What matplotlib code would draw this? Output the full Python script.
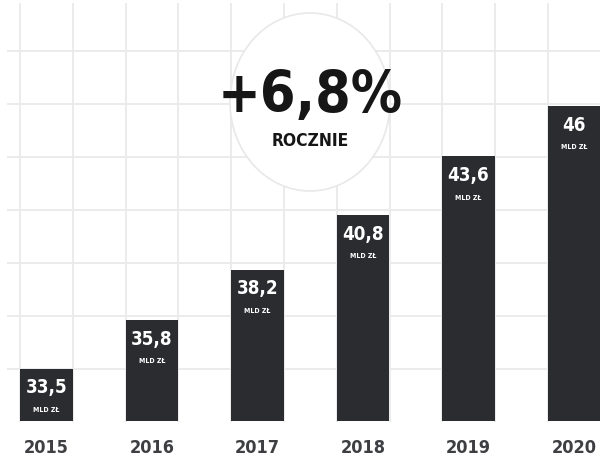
import numpy as np
import matplotlib
matplotlib.use('Agg')
import matplotlib.pyplot as plt
from matplotlib.patches import Ellipse

years = ['2015', '2016', '2017', '2018', '2019', '2020']
values = [33.5, 35.8, 38.2, 40.8, 43.6, 46]
value_labels = ['33,5', '35,8', '38,2', '40,8', '43,6', '46']
unit_label = 'MLD ZŁ'
growth_label = '+6,8%'
growth_sub = 'ROCZNIE'

W, H = 600, 464
BASE = 31.0
FONT = ['DejaVu Sans']
STRETCH = 'condensed'
BAR_COLOR = '#2b2c30'
GRID_COLOR = '#ebebeb'

fig = plt.figure(figsize=(W / 100, H / 100), dpi=100)
fig.patch.set_facecolor('white')

# background grid, drawn in pixel units
bg = fig.add_axes([0, 0, 1, 1], zorder=0)
bg.set_xlim(0, W)
bg.set_ylim(H, 0)
bg.axis('off')
for gx in 20 + 52.8 * np.arange(12):
    bg.plot([gx, gx], [5, 422], color=GRID_COLOR, lw=1.4, zorder=1)
for gy in np.linspace(52, 370, 7):
    bg.plot([8, W], [gy, gy], color=GRID_COLOR, lw=1.4, zorder=1)

# badge with the yearly growth
bg.add_patch(Ellipse((310, 103), 160, 178, facecolor='white',
                     edgecolor='#e8e8e8', lw=1.2, zorder=2))
bg.text(310, 97, growth_label, ha='center', va='center', fontsize=41,
        fontweight='bold', family=FONT, stretch=STRETCH, color='#161616', zorder=3)
bg.text(310, 141, growth_sub, ha='center', va='center', fontsize=12.5,
        fontweight='bold', family=FONT, stretch=STRETCH, color='#161616', zorder=3)

# bars
ax = fig.add_axes([0, (H - 422) / H, 1, 422 / H], zorder=1)
ax.patch.set_alpha(0)
x = np.arange(len(years))
heights = np.array(values) - BASE
ax.bar(x, heights, bottom=BASE, width=0.5, color=BAR_COLOR)
ax.set_xlim(-46.5 / 105.5, -46.5 / 105.5 + W / 105.5)
ax.set_ylim(BASE, BASE + 422 / 21)

for xi, v, lab in zip(x, values, value_labels):
    ax.annotate(lab, (xi, v), xytext=(0, -13), textcoords='offset points',
                ha='center', va='center', fontsize=13.5, fontweight='bold',
                family=FONT, stretch=STRETCH, color='white')
    ax.annotate(unit_label, (xi, v), xytext=(0, -29), textcoords='offset points',
                ha='center', va='center', fontsize=5, fontweight='bold',
                family=FONT, stretch=STRETCH, color='white')

ax.set_xticks(x)
ax.set_xticklabels(years, fontsize=13, fontweight='bold', family=FONT,
                   stretch=STRETCH, color='#3e3f42')
ax.tick_params(axis='x', length=0, pad=12)
ax.set_yticks([])
for s in ax.spines.values():
    s.set_visible(False)

fig.savefig('out.png', dpi=100)
